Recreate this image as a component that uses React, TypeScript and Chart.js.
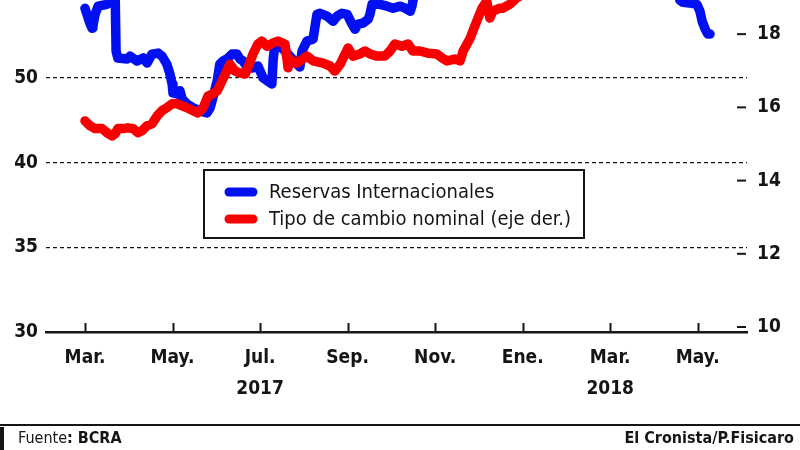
import React, { useEffect, useRef } from "react";
import { Chart, registerables } from "chart.js";

Chart.register(...registerables);

const FONT = "'Liberation Sans Narrow', 'DejaVu Sans Condensed', sans-serif";
const BLUE = "#0010f0";
const RED = "#f80000";
const INK = "#151515";
const OFFSET = 50; // canvas is taller than the visible page and shifted up (cropped chart)

// x values: months counted from March 2017 (0 = Mar. 2017)
const monthTicks = [0, 2, 4, 6, 8, 10, 12, 14];
const monthLabels = ["Mar.", "May.", "Jul.", "Sep.", "Nov.", "Ene.", "Mar.", "May."];
const yearLabels = ["", "", "2017", "", "", "", "2018", ""];

const leftTickValues = [35, 40, 45, 50, 55];
const leftTickLabels = ["30", "35", "40", "50", "55"];
const rightTickValues = [10, 12, 14, 16, 18];

const reservasX = [0, 0.11, 0.16, 0.18, 0.23, 0.3, 0.5, 0.69, 0.71, 0.75, 0.96, 1.03, 1.19, 1.33, 1.42, 1.53, 1.67, 1.76, 1.87, 1.94, 1.99, 2.01, 2.1, 2.17, 2.22, 2.33, 2.47, 2.63, 2.79, 2.86, 2.92, 3.02, 3.08, 3.15, 3.27, 3.36, 3.47, 3.54, 3.61, 3.72, 3.84, 3.95, 4.07, 4.23, 4.27, 4.3, 4.34, 4.46, 4.68, 4.84, 4.91, 4.96, 5.07, 5.21, 5.3, 5.37, 5.53, 5.67, 5.76, 5.87, 5.99, 6.1, 6.17, 6.24, 6.35, 6.47, 6.51, 6.56, 6.74, 6.9, 7.04, 7.2, 7.31, 7.43, 7.47, 7.56, 7.88, 8.8, 9.94, 10.85, 11.77, 12.68, 13.37, 13.59, 13.66, 13.87, 13.98, 14.05, 14.1, 14.17, 14.23, 14.28];
const reservasY = [54.12, 53.24, 52.94, 53.06, 53.76, 54.24, 54.35, 54.8, 51.59, 51.18, 51.12, 51.29, 51.0, 51.18, 50.88, 51.41, 51.47, 51.29, 50.82, 50.24, 49.65, 49.12, 49.06, 49.24, 48.76, 48.47, 48.24, 48.06, 47.94, 48.24, 48.82, 49.82, 50.82, 51.0, 51.18, 51.41, 51.41, 51.12, 51.0, 50.59, 50.59, 50.71, 50.0, 49.71, 49.65, 51.12, 52.0, 51.88, 51.29, 50.82, 50.65, 51.59, 52.18, 52.29, 53.76, 53.82, 53.65, 53.35, 53.65, 53.82, 53.76, 53.18, 52.88, 53.18, 53.24, 53.47, 53.76, 54.35, 54.35, 54.24, 54.12, 54.24, 54.12, 53.94, 54.24, 55.5, 56.5, 57.5, 59.5, 60.5, 61.0, 60.0, 58.5, 54.6, 54.47, 54.41, 54.35, 53.94, 53.35, 52.88, 52.59, 52.59];

const cambioX = [0, 0.11, 0.23, 0.39, 0.5, 0.62, 0.69, 0.75, 0.87, 0.98, 1.1, 1.21, 1.3, 1.42, 1.53, 1.65, 1.76, 1.87, 1.99, 2.1, 2.22, 2.33, 2.47, 2.58, 2.7, 2.81, 2.92, 3.02, 3.13, 3.24, 3.31, 3.43, 3.54, 3.66, 3.72, 3.84, 3.95, 4.04, 4.16, 4.3, 4.41, 4.57, 4.64, 4.68, 4.84, 5.07, 5.21, 5.44, 5.6, 5.71, 5.83, 6.01, 6.12, 6.28, 6.4, 6.51, 6.67, 6.85, 6.97, 7.08, 7.24, 7.38, 7.49, 7.65, 7.84, 8.04, 8.16, 8.27, 8.45, 8.57, 8.64, 8.8, 8.86, 8.98, 9.07, 9.18, 9.25, 9.32, 9.48, 9.55, 9.71, 9.87, 10.4, 11.31, 12.22, 13.14, 13.82, 14.28];
const cambioY = [15.63, 15.5, 15.42, 15.42, 15.31, 15.22, 15.28, 15.42, 15.42, 15.44, 15.42, 15.31, 15.36, 15.5, 15.55, 15.77, 15.91, 15.99, 16.1, 16.1, 16.04, 15.99, 15.91, 15.85, 15.99, 16.31, 16.37, 16.45, 16.72, 16.99, 17.18, 16.99, 16.94, 16.91, 17.08, 17.46, 17.73, 17.81, 17.67, 17.76, 17.81, 17.73, 17.08, 17.32, 17.21, 17.4, 17.27, 17.21, 17.13, 16.99, 17.18, 17.62, 17.4, 17.46, 17.54, 17.46, 17.4, 17.4, 17.54, 17.73, 17.67, 17.73, 17.54, 17.54, 17.48, 17.46, 17.35, 17.27, 17.32, 17.27, 17.54, 17.89, 18.08, 18.44, 18.71, 18.9, 18.44, 18.63, 18.71, 18.71, 18.82, 19.0, 19.3, 19.6, 20.2, 20.3, 22.5, 24.0];

const seriesLabels = ["Reservas Internacionales", "Tipo de cambio nominal (eje der.)"];

const decorPlugin = {
  id: "decor",
  afterDraw(chart: any) {
    const { ctx, chartArea, scales } = chart;
    ctx.save();
    ctx.strokeStyle = INK;
    ctx.lineWidth = 2;
    ctx.setLineDash([]);
    // upward tick marks on the x axis
    for (const v of monthTicks) {
      const x = Math.round(scales.x.getPixelForValue(v)) + 0.5;
      ctx.beginPath();
      ctx.moveTo(x, chartArea.bottom);
      ctx.lineTo(x, chartArea.bottom - 9);
      ctx.stroke();
    }
    // short dashes before the right-axis labels
    for (const v of rightTickValues) {
      const y = scales.y1.getPixelForValue(v);
      ctx.beginPath();
      ctx.moveTo(chartArea.right - 10, y);
      ctx.lineTo(chartArea.right - 1, y);
      ctx.stroke();
    }
    // legend box
    const bx = 204, by = 170 + OFFSET, bw = 380, bh = 68;
    ctx.fillStyle = "#fff";
    ctx.fillRect(bx, by, bw, bh);
    ctx.lineWidth = 2;
    ctx.strokeStyle = INK;
    ctx.strokeRect(bx, by, bw, bh);
    chart.data.datasets.forEach((ds: any, i: number) => {
      const y = by + 22 + i * 27;
      ctx.strokeStyle = ds.borderColor;
      ctx.lineWidth = 9;
      ctx.lineCap = "round";
      ctx.beginPath();
      ctx.moveTo(229, y);
      ctx.lineTo(253, y);
      ctx.stroke();
      ctx.fillStyle = INK;
      ctx.font = `20px ${FONT}`;
      ctx.textBaseline = "middle";
      ctx.textAlign = "left";
      ctx.fillText(ds.label, 269, y + 1);
    });
    ctx.restore();
  },
};

export default function App() {
  const ref = useRef<HTMLCanvasElement>(null);

  useEffect(() => {
    if (!ref.current) return;
    const tickFont = { family: FONT, size: 19, weight: "bold" as const };
    const chart = new Chart(ref.current, {
      type: "line",
      data: {
        datasets: [
          {
            label: seriesLabels[0],
            data: reservasX.map((x, i) => ({ x, y: reservasY[i] })),
            borderColor: BLUE,
            backgroundColor: BLUE,
            borderWidth: 9.5,
            pointRadius: 0,
            borderCapStyle: "round",
            borderJoinStyle: "round",
            yAxisID: "y",
            order: 1,
          },
          {
            label: seriesLabels[1],
            data: cambioX.map((x, i) => ({ x, y: cambioY[i] })),
            borderColor: RED,
            backgroundColor: RED,
            borderWidth: 9.5,
            pointRadius: 0,
            borderCapStyle: "round",
            borderJoinStyle: "round",
            yAxisID: "y1",
            order: 0,
          },
        ],
      },
      options: {
        animation: false,
        responsive: false,
        events: [],
        layout: { padding: { top: 20, left: 0, right: 0, bottom: 0 } },
        plugins: { legend: { display: false }, tooltip: { enabled: false } },
        scales: {
          x: {
            type: "linear",
            min: -0.891,
            max: 15.125,
            afterBuildTicks: (s: any) => {
              s.ticks = monthTicks.map((v) => ({ value: v }));
            },
            afterFit: (s: any) => {
              s.height = 118;
            },
            ticks: {
              autoSkip: false,
              maxRotation: 0,
              padding: 11,
              color: INK,
              font: { ...tickFont, lineHeight: "31px" },
              callback: (_v: any, i: number) =>
                yearLabels[i] ? [monthLabels[i], yearLabels[i]] : monthLabels[i],
            },
            grid: { display: true, drawOnChartArea: false, drawTicks: false },
            border: { display: true, color: INK, width: 2.5 },
          },
          y: {
            type: "linear",
            position: "left",
            min: 35,
            max: 56.294,
            afterBuildTicks: (s: any) => {
              s.ticks = leftTickValues.map((v) => ({ value: v }));
            },
            afterFit: (s: any) => {
              s.width = 46;
            },
            ticks: {
              padding: 8,
              color: INK,
              font: tickFont,
              callback: (_v: any, i: number) => leftTickLabels[i],
            },
            grid: {
              drawTicks: false,
              lineWidth: 1.3,
              color: (c: any) => (c.tick && c.tick.value === 35 ? "rgba(0,0,0,0)" : INK),
            },
            border: { display: false, dash: [4, 3] },
          },
          y1: {
            type: "linear",
            position: "right",
            min: 9.864,
            max: 19.714,
            afterBuildTicks: (s: any) => {
              s.ticks = rightTickValues.map((v) => ({ value: v }));
            },
            afterFit: (s: any) => {
              s.width = 53;
            },
            ticks: {
              padding: 10,
              color: INK,
              font: tickFont,
              callback: (v: any) => String(v),
            },
            grid: { drawOnChartArea: false, drawTicks: false },
            border: { display: false },
          },
        },
      },
      plugins: [decorPlugin],
    });
    return () => chart.destroy();
  }, []);

  const footFont: React.CSSProperties = {
    position: "absolute",
    top: 428,
    fontFamily: FONT,
    fontSize: 16,
    lineHeight: "20px",
    color: INK,
    whiteSpace: "nowrap",
  };

  return (
    <div
      style={{
        position: "fixed",
        left: 0,
        top: 0,
        width: 800,
        height: 450,
        overflow: "hidden",
        background: "#fff",
      }}
    >
      <canvas
        ref={ref}
        width={800}
        height={450 + OFFSET}
        style={{ position: "absolute", left: 0, top: -OFFSET, width: 800, height: 450 + OFFSET }}
      />
      <div style={{ position: "absolute", left: 0, top: 424, width: 800, height: 2, background: INK }} />
      <div style={{ position: "absolute", left: 0, top: 427, width: 4, height: 23, background: INK }} />
      <div style={{ ...footFont, left: 18 }}>
        Fuente<b>: BCRA</b>
      </div>
      <div style={{ ...footFont, right: 6, fontWeight: "bold" }}>El Cronista/P.Fisicaro</div>
    </div>
  );
}
